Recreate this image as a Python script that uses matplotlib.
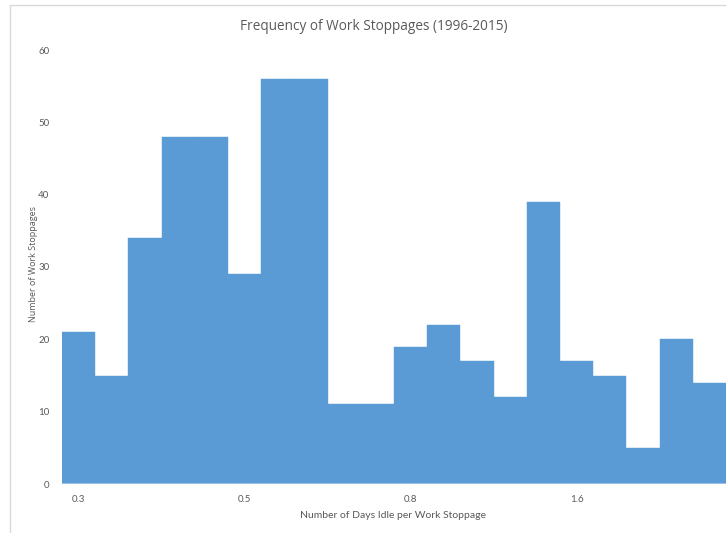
import matplotlib.pyplot as plt
from matplotlib.patches import Rectangle

# number of stoppages per bin (20 bins)
counts = [21, 15, 34, 48, 48, 29, 56, 56, 11, 11,
          19, 22, 17, 12, 39, 17, 15, 5, 20, 14]
tick_bins = [0, 5, 10, 15]
tick_labels = ['0.3', '0.5', '0.8', '1.6']
y_ticks = [0, 10, 20, 30, 40, 50, 60]

BAR = '#5B9BD5'
TXT = '#595959'

fig = plt.figure(figsize=(7.26, 5.33), dpi=100)
# chart area border (cropped on right / bottom)
fig.patches.append(Rectangle((10 / 726, -0.1), 1.2, 1 - 5 / 533 + 0.1,
                             transform=fig.transFigure, fill=False,
                             edgecolor='#D9D9D9', lw=1))

ax = fig.add_axes([62 / 726, 1 - 484 / 533, 664 / 726, 434 / 533])
x = list(range(len(counts)))
ax.bar(x, counts, width=1.0, color=BAR, edgecolor=BAR, lw=0.3)
ax.axhline(0, color='#A9C7E6', lw=1.2)

ax.set_xlim(-0.5, len(counts) - 0.5)
ax.set_ylim(0, 60)
ax.set_xticks(tick_bins)
ax.set_xticklabels(tick_labels, fontsize=7, color=TXT, family='Lato')
ax.set_yticks(y_ticks)
ax.set_yticklabels([str(v) for v in y_ticks], fontsize=7, color=TXT, family='Lato')
ax.tick_params(length=0)
ax.tick_params(axis='y', pad=9)
ax.tick_params(axis='x', pad=8)
for s in ax.spines.values():
    s.set_visible(False)

fig.text(374 / 726, 1 - 26 / 533, 'Frequency of Work Stoppages (1996-2015)',
         ha='center', va='center', fontsize=9.8, color=TXT, family='Open Sans')
fig.text(33 / 726, 1 - 264 / 533, 'Number of Work Stoppages', rotation=90,
         ha='center', va='center', fontsize=6.5, color=TXT, family='Open Sans')
fig.text(393 / 726, 1 - 515 / 533, 'Number of Days Idle per Work Stoppage',
         ha='center', va='center', fontsize=7.5, color=TXT, family='Lato')

fig.savefig('out.png', dpi=100)
